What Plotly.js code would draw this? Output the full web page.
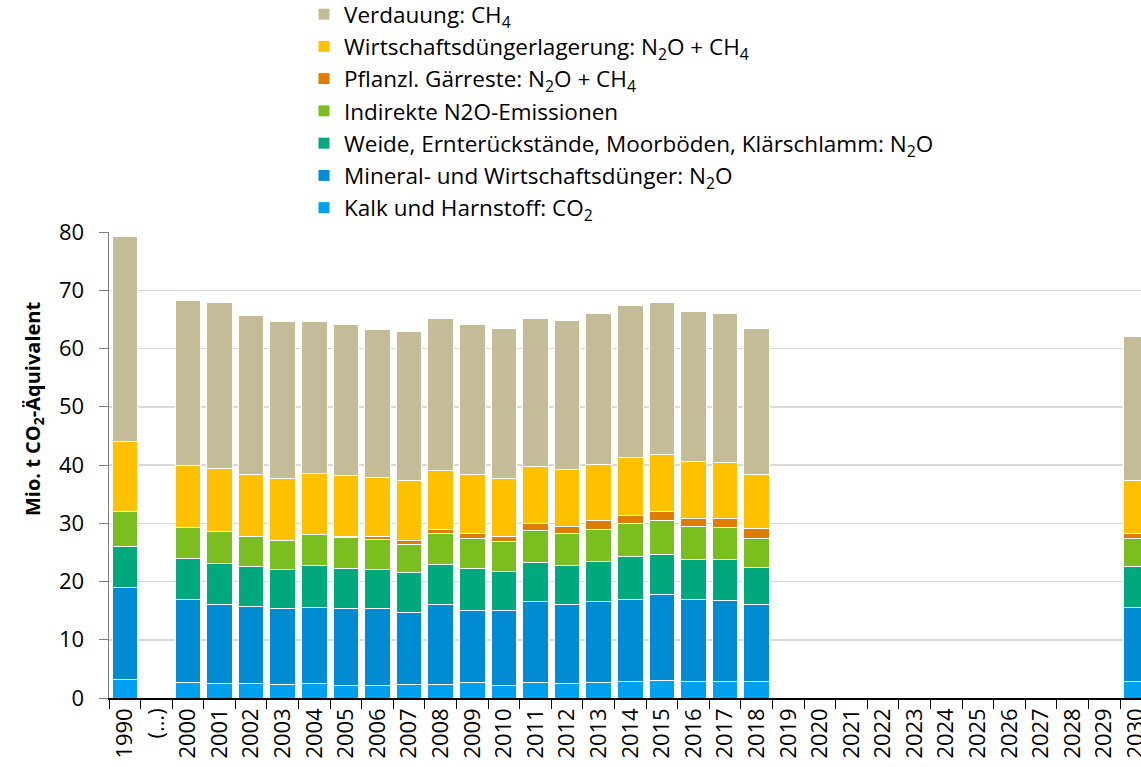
<!DOCTYPE html>
<html>
<head>
<meta charset="utf-8">
<script src="https://cdn.plot.ly/plotly-3.0.1.min.js"></script>
<style>html,body{margin:0;padding:0;overflow:hidden;background:#fff}#chart{width:1141px;height:767px}</style>
</head>
<body>
<div id="chart"></div>
<script>
const years = ["1990","(…)","2000","2001","2002","2003","2004","2005","2006","2007","2008","2009","2010","2011","2012","2013","2014","2015","2016","2017","2018","2019","2020","2021","2022","2023","2024","2025","2026","2027","2028","2029","2030"];

const kalk      = [3.2, null, 2.7, 2.5, 2.5, 2.4, 2.5, 2.2, 2.2, 2.3, 2.4, 2.6, 2.2, 2.6, 2.5, 2.7, 2.9, 3.0, 2.8, 2.9, 2.8, null,null,null,null,null,null,null,null,null,null,null, 2.8];
const mineral   = [15.7, null, 14.2, 13.5, 13.2, 13.0, 13.1, 13.1, 13.2, 12.4, 13.6, 12.5, 12.8, 13.9, 13.5, 13.8, 14.0, 14.8, 14.1, 13.9, 13.2, null,null,null,null,null,null,null,null,null,null,null, 12.7];
const weide     = [7.1, null, 7.0, 7.1, 6.8, 6.6, 7.1, 7.0, 6.7, 6.8, 6.9, 7.1, 6.8, 6.7, 6.8, 6.9, 7.4, 6.9, 6.9, 6.9, 6.4, null,null,null,null,null,null,null,null,null,null,null, 7.1];
const indirekt  = [6.0, null, 5.4, 5.4, 5.2, 5.1, 5.3, 5.2, 5.1, 4.9, 5.3, 5.2, 5.0, 5.5, 5.4, 5.5, 5.6, 5.8, 5.6, 5.6, 5.0, null,null,null,null,null,null,null,null,null,null,null, 4.7];
const pflanzl   = [0, null, 0, 0, 0, 0, 0, 0.3, 0.45, 0.7, 0.8, 0.8, 1.0, 1.3, 1.3, 1.5, 1.5, 1.6, 1.5, 1.6, 1.7, null,null,null,null,null,null,null,null,null,null,null, 0.9];
const wirtschaft= [12.1, null, 10.7, 10.9, 10.6, 10.6, 10.5, 10.4, 10.25, 10.25, 10.1, 10.1, 9.8, 9.7, 9.7, 9.7, 9.85, 9.7, 9.7, 9.5, 9.3, null,null,null,null,null,null,null,null,null,null,null, 9.2];
const verdauung = [35.1, null, 28.2, 28.5, 27.3, 27.0, 26.1, 25.9, 25.4, 25.55, 26.0, 25.8, 25.8, 25.5, 25.6, 25.9, 26.15, 26.1, 25.8, 25.6, 25.0, null,null,null,null,null,null,null,null,null,null,null, 24.6];

const seriesNames = [
  "Kalk und Harnstoff: CO<sub>2</sub>",
  "Mineral- und Wirtschaftsdünger: N<sub>2</sub>O",
  "Weide, Ernterückstände, Moorböden, Klärschlamm: N<sub>2</sub>O",
  "Indirekte N2O-Emissionen",
  "Pflanzl. Gärreste: N<sub>2</sub>O + CH<sub>4</sub>",
  "Wirtschaftsdüngerlagerung: N<sub>2</sub>O + CH<sub>4</sub>",
  "Verdauung: CH<sub>4</sub>"
];
const seriesValues = [kalk, mineral, weide, indirekt, pflanzl, wirtschaft, verdauung];
const seriesColors = ["#00a0f0", "#008bd2", "#00a87e", "#7abe20", "#e07c00", "#ffc000", "#c4bc96"];
const yTitle = "<b>Mio. t CO<sub>2</sub>-Äquivalent</b>";

const FONT = "'Open Sans', 'Noto Sans', sans-serif";

const traces = seriesValues.map((v, i) => ({
  type: "bar",
  name: seriesNames[i],
  x: years,
  y: v,
  marker: {color: seriesColors[i], line: {color: "#ffffff", width: 1}},
  hoverinfo: "x+y+name"
}));

const layout = {
  width: 1141,
  height: 767,
  barmode: "stack",
  bargap: 0.19,
  paper_bgcolor: "#ffffff",
  plot_bgcolor: "#ffffff",
  font: {family: FONT, color: "#000000", size: 20},
  margin: {l: 109, r: 0, t: 232, b: 69, pad: 0, autoexpand: false},
  showlegend: true,
  legend: {
    traceorder: "reversed",
    xref: "paper", yref: "paper",
    x: (304 - 109) / 1032, y: 1 + (232 + 7) / 466,
    xanchor: "left", yanchor: "top",
    font: {family: FONT, size: 22.5, color: "#000000"},
    itemwidth: 30,
    tracegroupgap: 0,
    bgcolor: "rgba(0,0,0,0)"
  },
  xaxis: {
    type: "category",
    range: [-0.5, 32.16],
    tickmode: "linear",
    dtick: 1,
    tickangle: -90,
    tickson: "boundaries",
    ticks: "outside",
    ticklen: 9,
    tickcolor: "#000000",
    showline: true,
    linecolor: "#000000",
    linewidth: 1.5,
    showgrid: false,
    tickfont: {family: FONT, size: 22, color: "#000000"},
    automargin: false,
    fixedrange: true
  },
  yaxis: {
    range: [0, 80],
    dtick: 10,
    ticks: "outside",
    ticklen: 9,
    tickcolor: "#7f7f7f",
    showline: true,
    linecolor: "#7f7f7f",
    linewidth: 1.5,
    showgrid: true,
    gridcolor: "#d9d9d9",
    gridwidth: 1.5,
    zeroline: false,
    ticklabelstandoff: 10,
    tickfont: {family: FONT, size: 22, color: "#000000"},
    automargin: false,
    fixedrange: true
  },
  annotations: [{
    text: yTitle,
    xref: "paper", yref: "paper",
    x: (33 - 109) / 1032, y: (698 - 409) / 466,
    xanchor: "center", yanchor: "middle",
    textangle: -90,
    showarrow: false,
    font: {family: FONT, size: 20, color: "#000000"}
  }]
};

Plotly.newPlot("chart", traces, layout, {displayModeBar: false, staticPlot: true});
</script>
</body>
</html>
